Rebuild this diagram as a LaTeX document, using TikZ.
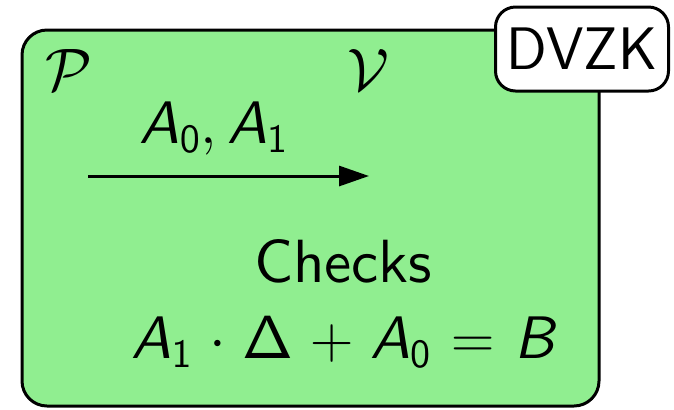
\documentclass[tikz,border=0pt]{standalone}
\usepackage{fix-cm}
\usetikzlibrary{arrows.meta}
\definecolor{boxgreen}{RGB}{144,238,144}
\font\ssTen=cmss10 at 30.5pt
\font\ssIt=cmssi10 at 30pt
\font\ssSub=cmss10 at 20pt
\newcommand{\vA}[1]{\hbox{\ssIt A}_{\hbox{\ssSub #1}}}
\begin{document}
\begin{tikzpicture}[x=0.5pt,y=-0.5pt,
  font=\fontsize{30}{36}\selectfont\sffamily,
  lbl/.style={inner sep=0pt, anchor=base},
  frame/.style={draw, line width=1.5pt},
  tag/.style={frame, fill=white, rounded corners=10pt, minimum width=86.5pt, minimum height=42pt, inner sep=0pt},
  msg/.style={line width=1.5pt, -{Triangle[length=15pt,width=10pt]}}]
\useasboundingbox (0,0) rectangle (674,409);
\draw[frame, fill=boxgreen, rounded corners=12.5pt] (22,30) rectangle (599,406);
\node[tag] (dvzk) at (582,49) {DVZK};
\node[lbl] (P) at (69,90) {$\mathcal{P}$};
\node[lbl] (V) at (368,90) {$\mathcal{V}$};
\coordinate (s) at (88,176);
\coordinate (t) at (369,176);
\draw[msg] (s) -- (t);
\node[lbl] (msglbl) at (214,143) {$\vA{0}, \vA{1}$};
\node[lbl] (checks) at (343,282) {\ssTen Checks};
\node[lbl] (eq) at (343,358) {$\medmuskip=5mu\thickmuskip=6mu \vA{1} \cdot \hbox{\ssTen\char1} + \vA{0} = \hbox{\ssIt B}$};
\end{tikzpicture}
\end{document}
